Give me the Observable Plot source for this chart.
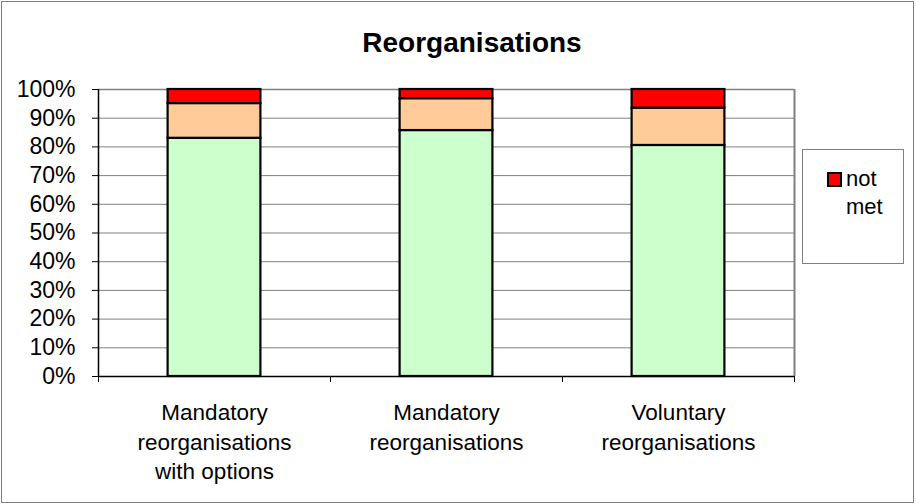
<!DOCTYPE html>
<html>
<head>
<meta charset="utf-8">
<script src="https://cdn.jsdelivr.net/npm/d3@7"></script>
<script src="https://cdn.jsdelivr.net/npm/@observablehq/plot@0.6"></script>
<style>
  html, body { margin: 0; padding: 0; background: #fff; }
  body { font-family: "Liberation Sans", Arial, sans-serif; }
  #wrap { position: relative; width: 916px; height: 504px; overflow: hidden; }
  #wrap svg { position: absolute; left: 0; top: 0; }
  #border { position: absolute; left: 1px; top: 1px; width: 913px; height: 502px; box-sizing: border-box; border: 1px solid #808080; pointer-events: none; }
  #title { position: absolute; left: 0; width: 944px; top: 29px; text-align: center; font-size: 28px; font-weight: bold; line-height: 28px; color: #000; }
  #legend { position: absolute; left: 802px; top: 149px; width: 102px; height: 115px; box-sizing: border-box; border: 1px solid #808080; background: #fff; }
  #legend .sw { position: absolute; left: 24px; top: 22px; width: 15px; height: 15px; box-sizing: border-box; border: 2px solid #000; }
  #legend .lab { position: absolute; left: 43px; top: 15px; width: 45px; font-size: 22px; line-height: 28px; color: #000; }
</style>
</head>
<body>
<div id="wrap">
  <div id="title"></div>
</div>
<script>
const title = "Reorganisations";
const categories = [
  "Mandatory\nreorganisations\nwith options",
  "Mandatory\nreorganisations",
  "Voluntary\nreorganisations"
];
const seriesNames = ["met", "partially met", "not met"];
const seriesColors = ["#CCFFCC", "#FFCC99", "#FF0000"];
const metValues = [83.0, 85.7, 80.5];
const partlyValues = [12.1, 11.1, 13.0];
const notMetValues = [4.9, 3.2, 6.5];
const yTicks = [0, 10, 20, 30, 40, 50, 60, 70, 80, 90, 100];
const legendSeries = ["not met"];

const valuesBySeries = [metValues, partlyValues, notMetValues];
const rows = [];
categories.forEach((c, i) => {
  seriesNames.forEach((s, j) => {
    rows.push({index: i, category: c, series: s, value: valuesBySeries[j][i]});
  });
});
const idx = categories.map((c, i) => ({index: i, category: c}));
const bounds = d3.range(categories.length + 1);

const chart = Plot.plot({
  width: 916,
  height: 504,
  marginLeft: 98,
  marginRight: 122,
  marginTop: 89,
  marginBottom: 128,
  style: {fontFamily: "'Liberation Sans', Arial, sans-serif", fontSize: "22px", background: "transparent", color: "#000"},
  x: {domain: [0, categories.length], axis: null},
  y: {domain: [0, 100], axis: null},
  color: {domain: seriesNames, range: seriesColors},
  marks: [
    Plot.gridY(yTicks, {stroke: "#808080", strokeOpacity: 1, strokeWidth: 1}),
    Plot.ruleX([categories.length], {stroke: "#808080", strokeWidth: 2}),
    Plot.ruleY([100], {stroke: "#808080", strokeWidth: 1.5}),
    Plot.rectY(rows, {
      x1: d => d.index + 0.3,
      x2: d => d.index + 0.7,
      y: "value",
      fill: "series",
      order: seriesNames,
      stroke: "#000",
      strokeWidth: 2.2
    }),
    Plot.ruleX([0], {stroke: "#000", strokeWidth: 1.5}),
    Plot.ruleY([0], {stroke: "#000", strokeWidth: 1.5}),
    Plot.axisY({ticks: yTicks, tickFormat: d => d + "%", tickSize: 6, tickPadding: 17, stroke: "#000", fontSize: 23, fill: "#000", label: null}),
    Plot.axisX({ticks: bounds, tickFormat: () => "", tickSize: 6, stroke: "#000", label: null}),
    Plot.text(idx, {
      x: d => d.index + 0.5,
      y: () => 0,
      text: "category",
      lineAnchor: "top",
      lineHeight: 1.3,
      dy: 23,
      fontSize: 22.5,
      fill: "#000"
    })
  ]
});

const wrap = document.getElementById("wrap");
wrap.appendChild(chart);
document.getElementById("title").textContent = title;

const border = document.createElement("div");
border.id = "border";
wrap.appendChild(border);

const legend = document.createElement("div");
legend.id = "legend";
legendSeries.forEach(s => {
  const sw = document.createElement("div");
  sw.className = "sw";
  sw.style.background = seriesColors[seriesNames.indexOf(s)];
  const lab = document.createElement("div");
  lab.className = "lab";
  lab.textContent = s;
  legend.appendChild(sw);
  legend.appendChild(lab);
});
wrap.appendChild(legend);
</script>
</body>
</html>
